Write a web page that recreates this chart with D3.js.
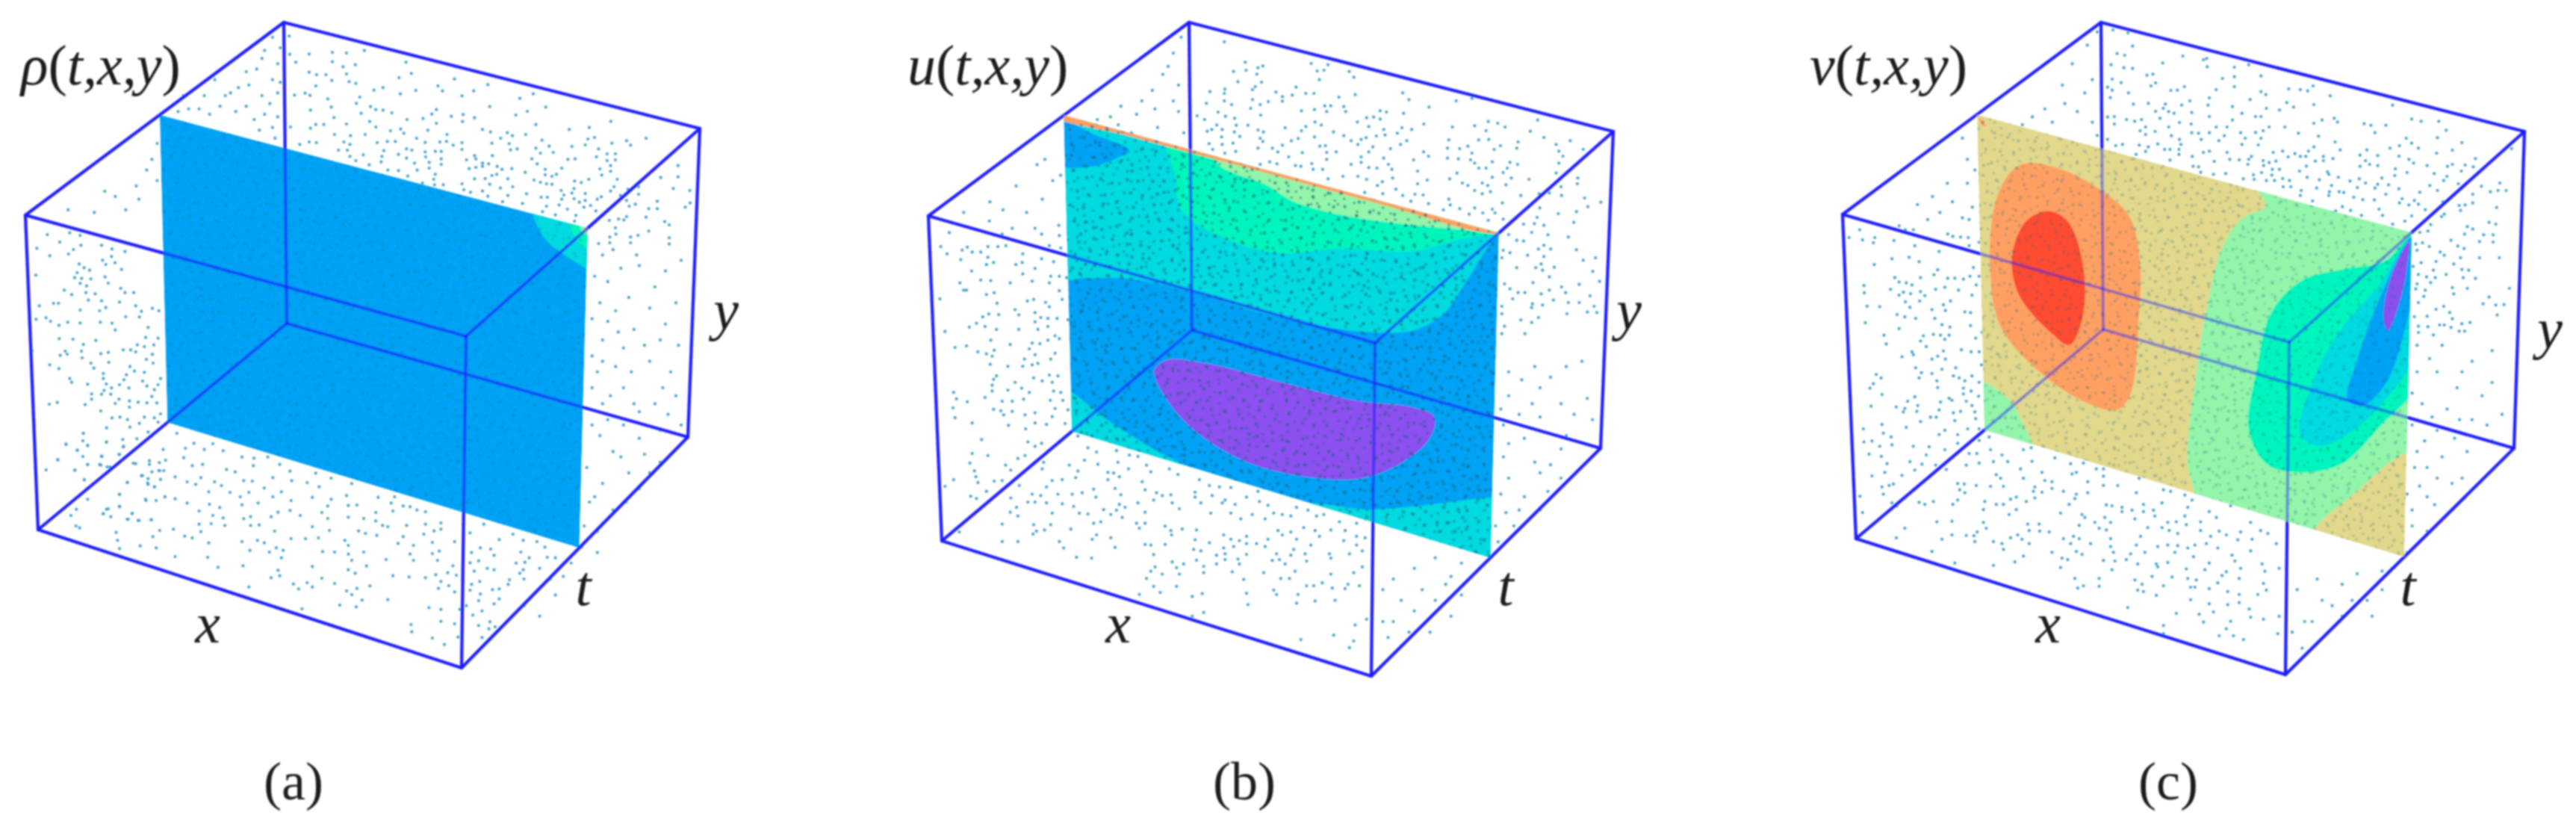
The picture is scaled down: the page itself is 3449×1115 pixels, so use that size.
<!DOCTYPE html>
<html>
<head>
<meta charset="utf-8">
<script src="https://cdn.jsdelivr.net/npm/d3@7"></script>
<style>
html,body{margin:0;padding:0;background:#fff;}
svg{display:block;}
text{font-family:"Liberation Serif",serif;fill:#1a1a1a;}
</style>
</head>
<body>
<div id="canvas"></div>
<script>
//contour levels, purple = lowest value, red = highest
var levels = [0,1,2,3,4,5,6,7];
var levelColors = ['#8c50f0','#00a2f5','#00dae0','#00f5bd','#92f5aa','#e1d88c','#ffa062','#ff4c30'];

//contours on the slice t = const, [x %, y % from top]
var contoursRho = [
  {level:2, pts:[[87,-4],[89.4,5.7],[94.4,10],[104,12.5],[105,-4]]},
  {level:3, pts:[[95.5,-3],[97,3.5],[99,6],[104,6.5],[104,-3]]},
  {level:4, pts:[[98.3,-2],[98.8,1.5],[104,2.5],[104,-2]]},
  {level:6, pts:[[99.3,-1],[99.5,0.6],[102,0.8],[102,-1]]}
];
var contoursU = [
  {level:2, pts:[[-4,-4],[104,-4],[104,1],[100,1],[93,17],[88,29],[81,37],[69,42],[49,45],[29,45],[15,46],[4,50],[-4,53]]},
  {level:1, pts:[[-2,2],[7,3.5],[15,5.5],[12,9],[6,14],[-2,16]]},
  {level:3, pts:[[24,-3],[25.5,10],[27,20],[37,25],[49,25],[64,18],[80,13],[92,4.6],[100,0],[104,-3]]},
  {level:4, pts:[[34,-2],[35.6,2.5],[46.6,4.7],[52.8,7.5],[65,7.5],[80,4.8],[98,0.5],[104,-1]]},
  {level:6, pts:[[-3,-3],[103,-3],[100,0.2],[70,1],[40,1],[15,1],[-3,0.8]]},
  {level:0, pts:[[20,73],[23,68.5],[32,66],[49,65],[67.5,64],[81,61],[86,62],[85,69],[78.5,79],[69,87.5],[56.4,92],[41.7,93],[29.4,88],[22.7,80.5]]},
  {level:2, pts:[[-4,86],[1,88],[8.6,93],[20,98],[28,101],[28,105],[-4,105]]},
  {level:2, pts:[[56,101],[71,96.5],[86,89],[100,81.5],[105,80],[105,105],[56,105]]}
];
var contoursV = [
  {level:6, pts:[[10.7,11.5],[18.9,10],[28,13],[35,19],[37.4,33],[37,50],[35,74.5],[31.8,81],[23.6,81.5],[11.8,75],[4.2,65],[2.2,48.5],[3.6,27.5],[7.2,16]]},
  {level:7, pts:[[16,24.5],[20.6,26],[24,38],[23.8,55],[20.6,65],[16.5,63],[9,54],[7.4,43],[10.7,30]]},
  {level:6, pts:[[0.6,1],[1.4,1.6],[2,3],[1.2,3],[0.6,2]]},
  {level:4, pts:[[63,-4],[105,-4],[105,68],[100,68],[88,85],[78,101],[78,105],[50,105],[50,100],[48.4,91],[50.5,62],[52.9,41],[56.4,21],[61,10],[66.4,4]]},
  {level:4, pts:[[-3,85],[6,88],[9.5,95],[11.6,101],[11,105],[-3,105]]},
  {level:3, pts:[[100,1],[94,11],[84.5,17],[75,24],[68,36.5],[64.6,56],[62.8,75],[67,84],[74,84],[84.5,77.5],[94,61.5],[102,46],[104,1]]},
  {level:2, pts:[[100,2],[92.7,19],[84.5,35],[78.7,51],[75,72],[79.8,73.5],[88,65],[96,51],[102,35],[103,2]]},
  {level:1, pts:[[100,1.5],[92.7,24],[88,44],[86,57],[89.8,57],[95,48],[99,30],[101,13.5]]},
  {level:0, pts:[[99.5,3],[95.6,15],[94,28.5],[95,32],[98,20],[99.3,8]]}
];

//scatter points, [column,row] in each reading window
var dotsRhoTop = [[20,55],[22,128],[95,127],[182,120],[235,123],[302,113],[45,160],[182,158],[222,178],[268,170],[458,160],[95,200],[123,210],[158,210],[235,207],[432,222],[478,205],[180,233],[245,238],[270,245],[120,255],[640,227],[578,255],[338,272],[372,262],[495,273],[595,275],[712,275],[765,250],[40,292],[80,284],[98,293],[165,307],[285,300],[437,287],[668,295],[885,305],[935,287],[272,325],[178,340],[325,338],[345,350],[372,352],[405,363],[572,350],[772,338],[982,340],[913,357],[870,372],[100,352],[188,382],[290,365],[555,368],[628,377],[672,370],[715,383],[120,410],[235,408],[322,398],[462,390],[522,386],[670,398],[1226,397],[25,420],[100,425],[150,410],[345,420],[400,435],[438,428],[572,405],[745,430],[775,440],[945,410],[1070,430],[1145,422],[1358,465],[1165,462],[838,443],[857,455],[907,450],[190,450],[250,455],[305,450],[450,445],[540,433],[612,450],[813,465],[498,465],[1285,475],[1140,468],[95,480],[122,483],[225,480],[350,483],[388,478],[418,478],[530,482],[585,480],[610,478],[668,483],[780,485],[845,487],[968,473],[1230,485],[1300,493],[1130,492],[60,490],[248,490],[995,497],[1080,498],[205,513],[238,513],[375,515],[460,508],[480,513],[530,520],[568,518],[590,518],[635,493],[668,510],[850,512],[875,508],[945,505],[962,525],[1010,522],[1180,508],[1212,528],[1243,528],[298,532],[430,530],[460,545],[532,540],[715,535],[782,535],[248,538],[1172,540],[1065,550],[1092,548],[930,548],[1243,552],[1212,555],[270,555],[368,538],[590,548],[685,552],[720,548],[365,560],[320,572],[490,565],[545,562],[590,570],[768,568],[745,565],[950,568],[1225,575],[1478,575],[695,587],[745,578],[720,582],[800,578],[855,587],[1042,585],[1185,588],[980,590],[818,590],[545,585],[390,593],[430,595],[500,593],[1225,598],[905,602],[1192,613],[798,610],[568,610],[465,617],[780,615],[980,612],[1005,618],[1022,610],[1413,623],[1478,620],[715,628],[840,628],[755,627],[562,630],[1250,630],[938,633],[962,642],[1090,637],[1143,630],[1115,643],[985,648],[1005,650],[520,645],[565,652],[598,652],[668,648],[772,650],[1330,660],[1238,660],[858,660],[812,665],[1290,670],[1040,675],[1460,667],[1088,667],[1522,675],[675,672],[700,682],[745,677],[910,688],[1130,687],[1225,677],[1080,685],[1050,693],[1330,690],[840,695],[765,698],[965,702],[988,702],[1262,695],[1190,700],[1088,708],[1042,710],[1175,710],[1285,715],[1130,715],[1108,722],[1400,718],[820,720],[895,727],[1318,730],[1523,725],[1150,735],[1295,738],[1505,742],[985,738],[1032,733],[1125,742],[1368,748],[1400,748],[1063,750],[1215,752],[1170,757],[1018,773],[970,760],[1095,775],[1358,782],[1285,780],[1255,790],[1275,793],[1220,795],[1090,798],[1428,800],[1445,813],[1243,825],[1368,838],[1245,850],[1445,865],[1222,862],[1300,862],[1328,855],[1222,885],[1300,885],[1180,888],[1445,890]];
var dotsRhoLeft = [[100,102],[190,95],[232,105],[150,132],[235,145],[58,157],[205,162],[185,180],[110,187],[318,145],[360,160],[412,170],[358,190],[322,205],[335,222],[372,215],[228,220],[248,235],[270,245],[398,242],[220,255],[54,265],[210,275],[238,278],[275,280],[332,272],[345,297],[232,298],[258,308],[168,325],[255,335],[198,343],[292,340],[395,318],[412,335],[447,335],[265,365],[318,368],[390,373],[68,388],[125,378],[145,378],[335,395],[232,405],[310,408],[455,388],[478,410],[522,398],[548,408],[415,432],[470,433],[95,436],[113,450],[55,442],[147,466],[182,454],[232,457],[313,454],[360,458],[373,485],[505,475],[148,520],[203,522],[295,527],[495,515],[545,518],[245,543],[237,570],[490,552],[528,545],[462,545],[405,565],[435,565],[455,573],[38,568],[345,575],[315,580],[172,570],[180,582],[152,587],[522,583],[240,597],[498,603],[110,625],[275,618],[347,615],[525,618],[147,640],[287,638],[432,632],[325,660],[450,650],[418,665],[490,655],[190,680],[325,680],[408,685],[555,680],[198,695],[262,703],[337,702],[390,705],[483,690],[500,710],[545,705],[358,718],[428,718],[530,725],[328,728],[278,742],[318,743],[355,743],[520,752],[278,763],[388,763],[430,770],[465,775],[500,778],[540,778],[108,783],[140,776],[252,785],[373,780],[430,795],[315,810],[360,838],[392,835],[422,845],[490,835],[530,838],[555,822],[338,878],[432,875],[470,860],[545,855],[505,895],[245,900],[243,930],[175,945],[262,950],[337,935],[403,925],[460,922],[405,955],[220,968],[142,1006],[243,993],[320,993],[388,985],[445,1020],[262,1026],[315,1028],[340,1035],[95,1047],[210,1048],[510,1025],[550,1018],[575,1008],[520,1055],[548,1050],[568,1050],[478,1070],[248,1086],[505,1082],[422,1097],[505,1105],[555,1085],[530,1115],[258,1122],[390,1145],[495,1165],[537,1170],[573,1155],[262,1165],[390,1193],[345,1203],[325,1223],[440,1222],[195,1230],[355,1235],[465,1250],[518,1247],[425,1245],[215,1272],[230,1280]];
var dotsRhoFloor = [[112,60],[62,103],[125,108],[180,95],[95,128],[230,112],[165,152],[218,145],[38,167],[265,182],[125,185],[160,185],[88,208],[190,195],[115,247],[240,258],[122,285],[385,60],[410,120],[435,100],[465,125],[490,102],[345,125],[305,170],[405,158],[520,130],[575,155],[610,160],[650,155],[685,185],[715,212],[608,190],[530,205],[555,215],[580,250],[605,252],[665,238],[720,250],[790,220],[835,240],[895,262],[765,258],[800,275],[460,185],[430,190],[335,210],[380,235],[455,238],[285,230],[300,260],[415,255],[440,265],[495,255],[515,270],[320,275],[218,305],[295,330],[350,315],[380,323],[415,340],[478,295],[540,297],[595,297],[640,280],[665,315],[690,295],[570,315],[718,330],[780,317],[835,325],[880,310],[972,317],[1020,315],[480,345],[510,358],[575,347],[622,340],[825,352],[885,350],[910,348],[1010,340],[1045,352],[218,355],[180,365],[92,365],[450,372],[680,377],[715,370],[745,390],[808,378],[965,378],[1015,372],[1065,355],[1085,368],[1110,375],[170,383],[255,382],[490,390],[600,395],[580,403],[660,395],[520,400],[240,405],[275,410],[310,407],[825,402],[930,402],[885,397],[965,412],[985,430],[1055,430],[1110,425],[1155,420],[450,425],[485,423],[525,430],[600,430],[625,428],[780,435],[1000,435],[375,445],[335,450],[208,458],[455,455],[670,453],[830,450],[915,452],[935,462],[968,470],[1045,475],[1105,465],[1135,452],[1155,445],[1220,425],[1240,460],[1280,425],[1365,465],[1395,490],[1435,495],[315,475],[408,473],[430,480],[212,490],[575,495],[620,490],[640,500],[718,483],[760,483],[798,480],[875,490],[1030,502],[1130,498],[1195,495],[1325,487],[478,500],[218,523],[278,512],[325,520],[598,530],[655,537],[675,520],[695,530],[810,535],[845,537],[885,510],[930,537],[1075,510],[1150,533],[1130,543],[1270,520],[1300,525],[1388,537],[380,555],[475,558],[690,560],[885,545],[1065,545],[1310,550],[1465,558],[505,598],[578,592],[895,570],[938,593],[995,567],[1075,570],[1145,570],[1240,580],[1265,572],[1400,578],[780,595],[680,610],[885,608],[1190,592],[1310,608],[660,640],[685,632],[808,642],[905,622],[1015,632],[1062,637],[1110,640],[1140,628],[1175,620],[1200,630],[1385,622],[1395,608],[725,665],[765,660],[845,663],[1155,655],[1220,655],[1268,655],[1355,648],[1465,652],[595,677],[740,685],[780,677],[948,673],[1148,683],[1178,672],[1240,690],[1325,685],[880,693],[910,683],[1195,697],[895,708],[1270,705],[925,730],[1000,728],[1265,732],[1325,725],[1310,745],[750,765],[860,750],[908,757],[1120,760],[1155,767],[1210,767],[1248,790],[1155,815],[1195,825],[1298,817],[1068,828],[1265,832],[1070,857],[1295,845],[1130,882],[1205,878],[1165,908]];
var dotsRhoRest = [[520,70],[530,120],[490,130],[520,150],[455,165],[420,200],[470,200],[500,180],[530,175],[380,205],[430,180],[495,245],[530,220],[470,135],[505,215],[525,260],[350,180],[410,150],[280,320],[220,370],[260,350],[300,270],[180,400],[240,395],[505,95],[535,90],[440,175],[390,180],[450,210],[485,225],[515,195],[475,160],[400,215],[360,205],[340,210],[520,240],[535,155],[500,110],[290,300],[265,375],[130,395],[200,360],[300,340],[1150,480],[1170,470],[1215,480],[1135,520],[1160,530],[1220,500],[1270,510],[1300,490],[1145,570],[1175,585],[1240,580],[1290,570],[1130,600],[1160,605],[1210,620],[1260,640],[1150,640],[1130,670],[1190,655],[1295,650],[1140,700],[1175,690],[1240,680],[1280,700],[1130,730],[1190,730],[1150,760],[1220,775],[1250,760],[1190,800],[1130,800],[1290,745],[1260,810],[1300,800],[1145,820],[1170,850],[1230,855],[1200,890],[1120,880],[1260,870],[1150,910],[1220,920],[1125,945],[1170,960],[1115,990],[1140,1000],[1060,1050],[1090,1060],[1030,1070],[930,1070],[970,1100],[1000,1090],[900,1100],[920,1150],[940,1110],[1040,1030],[900,1040],[1000,1140],[1110,1030],[1060,1120],[1030,1160],[920,1200],[1185,505],[1250,540],[1200,560],[1270,610],[1180,625],[1230,650],[1150,680],[1205,700],[1265,730],[1165,745],[1210,760],[1275,780],[1160,790],[1220,825],[1185,860],[1240,890],[1135,935],[1195,945],[1150,985],[1080,1020],[1140,1040],[1050,1090],[985,1060],[905,1075],[945,1180],[890,1140],[1075,1085],[1010,1050]];

var dotsUTop = [[108,78],[185,160],[232,182],[250,175],[428,165],[490,170],[475,192],[450,195],[568,197],[585,220],[142,197],[188,192],[228,208],[458,230],[158,238],[245,240],[222,258],[372,260],[110,268],[55,278],[212,270],[298,280],[358,292],[322,298],[408,285],[438,285],[590,290],[765,283],[108,285],[530,300],[788,310],[962,315],[1020,305],[42,325],[108,315],[135,330],[322,316],[212,310],[270,318],[240,330],[205,345],[500,335],[478,335],[548,338],[862,340],[440,350],[392,355],[485,358],[555,358],[682,355],[705,360],[768,365],[85,360],[112,377],[242,372],[146,385],[632,383],[658,380],[682,388],[8,375],[35,390],[598,400],[442,400],[465,412],[1080,398],[1115,405],[1262,392],[843,408],[1030,415],[948,420],[1142,420],[195,413],[152,413],[640,418],[408,418],[332,423],[80,412],[100,430],[62,430],[45,437],[232,432],[252,440],[510,440],[392,435],[695,430],[762,423],[798,430],[745,445],[1072,435],[1235,437],[700,452],[668,456],[548,455],[440,460],[98,460],[145,440],[165,458],[240,465],[380,466],[355,475],[575,475],[630,463],[612,470],[1285,462],[935,472],[1045,472],[1082,470],[780,475],[1382,475],[250,478],[140,485],[52,487],[100,490],[600,490],[322,493],[1190,480],[1330,490],[460,497],[232,505],[285,505],[480,495],[655,500],[720,507],[757,490],[930,505],[975,507],[1005,497],[1102,510],[1125,495],[1185,505],[1430,510],[395,523],[65,510],[150,518],[520,520],[640,520],[485,522],[1340,517],[842,520],[860,537],[305,520],[110,525],[695,545],[930,545],[1020,525],[970,548],[345,540],[1355,537],[612,540],[485,550],[1015,552],[805,552],[1095,560],[1340,565],[275,560],[302,568],[430,567],[612,562],[370,575],[575,570],[712,570],[1030,565],[1160,562],[1188,570],[240,570],[390,578],[640,583],[670,585],[1045,585],[1072,585],[725,590],[820,597],[1150,585],[435,590],[470,590],[1135,603],[965,605],[1330,605],[545,618],[490,628],[600,618],[632,630],[728,625],[855,633],[938,628],[1095,622],[1165,625],[1230,630],[1410,625],[690,640],[820,648],[985,645],[1005,655],[1058,645],[1078,655],[1145,652],[1408,648],[672,655],[1348,660],[740,670],[1030,675],[1058,688],[1088,680],[1268,688],[625,683],[692,688],[810,690],[840,693],[765,695],[1200,695],[1305,685],[1350,695],[935,710],[795,718],[860,728],[1435,705],[1495,722],[1132,725],[940,733],[1270,745],[1447,740],[975,748],[1030,745],[915,753],[1060,765],[1095,750],[1338,768],[1405,760],[1010,770],[1105,765],[1260,783],[1080,795],[1135,790],[1395,803],[1210,810],[1250,808],[1285,815],[1240,843],[1300,853],[1155,852],[1375,862],[1185,875],[1210,878],[1285,895],[1310,910],[1135,915],[1160,925],[1265,910],[1405,913],[1225,935],[1285,940],[1475,945],[1430,955],[1275,970],[1130,945],[1323,983],[1255,985],[1280,995],[1185,985],[1465,1000],[1305,1022],[1245,1045],[1490,1040],[1415,1052],[1140,1050],[1160,1070],[1350,1062],[1305,1075],[1190,1085],[1215,1085],[1275,1090],[1365,1085],[1455,1098],[1170,1110],[1320,1115],[1415,1125],[1243,1130],[1280,1135],[1375,1125],[1130,1140],[1470,1140],[1445,1163],[1240,1145],[1130,1170],[1370,1170],[1480,1165],[1265,1185],[1200,1195],[1240,1205],[1140,1220],[1215,1250],[1130,1250]];
var dotsULow = [[55,55],[195,15],[240,60],[275,40],[355,40],[378,60],[438,30],[440,65],[25,103],[118,105],[47,128],[100,115],[135,122],[165,122],[190,103],[225,103],[253,100],[405,100],[445,108],[312,128],[378,145],[420,155],[95,148],[190,140],[210,158],[288,165],[185,165],[133,187],[355,178],[310,158],[410,205],[312,197],[440,205],[465,210],[165,218],[200,220],[268,228],[345,222],[92,228],[405,228],[105,253],[115,253],[185,268],[212,262],[440,255],[22,283],[328,290],[350,285],[392,295],[222,298],[405,310],[450,285],[285,320],[355,330],[193,335],[172,345],[228,337],[298,338],[375,347],[400,350],[432,350],[470,355],[355,362],[150,367],[180,378],[125,380],[400,378],[220,388],[298,388],[365,388],[40,395],[425,410],[200,425],[268,440],[345,435],[372,437],[400,425],[440,420],[75,450],[115,445],[155,465],[212,460],[335,455],[355,475],[425,470],[185,472],[205,480],[318,490],[410,490],[198,508],[260,515],[312,515],[345,510],[365,505],[220,548],[210,560],[350,555],[405,545],[435,548],[380,565],[285,570],[415,570],[205,580],[260,597],[308,590],[335,605],[205,600],[420,600],[445,605],[70,605],[80,627],[118,637],[180,622],[240,635],[275,635],[315,628],[408,632],[452,632],[68,658],[210,663],[235,668],[275,670],[425,660],[470,665],[75,692],[245,682],[320,682],[355,675],[415,688],[135,710],[355,710],[395,715],[262,718],[460,712],[322,730],[168,767],[330,775],[378,780],[355,790],[135,815],[190,822],[320,822],[295,832],[127,848],[252,855],[270,872],[143,875],[148,895],[70,905],[155,915],[212,910],[240,908],[40,928],[185,945],[130,962],[150,970],[90,1085],[505,755],[540,795],[640,805],[570,810],[685,820],[715,825],[475,855],[528,838],[575,852],[645,845],[745,855],[505,875],[385,845],[380,868],[610,880],[630,882],[682,868],[760,878],[825,868],[855,887],[450,905],[415,908],[497,898],[610,905],[650,895],[730,912],[930,905],[395,930],[435,955],[300,925],[560,938],[635,935],[740,940],[780,950],[830,957],[915,948],[965,925],[1000,930],[1040,932],[1135,945],[270,968],[345,955],[375,960],[485,955],[520,950],[568,965],[655,957],[715,985],[770,975],[800,960],[915,965],[975,960],[1020,975],[1095,965],[290,1000],[330,982],[355,982],[395,985],[450,988],[490,997],[650,990],[835,985],[935,985],[1010,985],[1055,990],[1140,980],[1170,993],[1270,1000],[268,1017],[415,1020],[510,1020],[540,1023],[595,1008],[640,1010],[670,1000],[740,1017],[860,1005],[970,1020],[1115,1025],[1190,1020],[1220,1025],[1310,1010],[295,1030],[620,1025],[660,1035],[740,1055],[1040,1020],[1075,1040],[1160,1040],[1340,1030],[1365,1025],[350,1060],[240,1058],[410,1060],[585,1050],[560,1055],[710,1055],[1250,1030],[1420,1050],[1480,1055],[1510,1040],[480,1075],[360,1082],[388,1078],[348,1092],[720,1072],[810,1065],[830,1080],[870,1075],[920,1078],[1205,1080],[1295,1070],[1335,1080],[1390,1078],[1440,1080],[833,1095],[1015,1095],[1040,1110],[1095,1100],[1220,1095],[1250,1085],[1350,1100],[1480,1100],[570,1095],[555,1110],[620,1105],[915,1112],[1070,1115],[1170,1110],[1270,1110],[1435,1115],[1510,1105],[240,1118],[295,1118],[440,1118],[740,1128],[810,1128],[965,1122],[1015,1140],[1050,1135],[1095,1125],[1130,1125],[1160,1135],[1320,1130],[1480,1130],[635,1138],[455,1140],[760,1130],[910,1145],[935,1150],[1260,1145],[1200,1160],[1300,1160],[1385,1160],[1455,1160],[500,1172],[553,1175],[770,1163],[990,1165],[1020,1160],[1095,1162],[1250,1165],[1500,1150],[920,1182],[1020,1180],[1065,1178],[1185,1183],[1230,1195],[1390,1175],[835,1188],[875,1195],[990,1195],[1210,1180],[1305,1185],[775,1205],[850,1208],[945,1203],[1070,1195],[1500,1205],[760,1220],[860,1230],[945,1225],[1045,1222],[1155,1225],[1265,1220],[1390,1230],[1470,1225],[745,1245],[1215,1245],[1085,1248],[1245,1245],[800,1230],[1305,1270],[1360,1260],[1450,1265],[770,1272],[850,1272],[1395,1278],[1490,1270],[1190,1285],[1330,1270],[1440,1280],[793,1293],[940,1297],[1095,1296],[1200,1300],[1275,1300],[1405,1320],[720,1300],[905,1307],[1335,1322],[1270,1330],[1100,1335],[945,1362],[905,1375],[1515,1385],[1475,1405],[1400,1440],[1285,1455],[1470,1460],[1455,1483]];
var dotsURest = [[600,100],[580,140],[560,170],[600,190],[540,190],[500,200],[480,220],[570,240],[610,210],[520,250],[600,280],[570,290],[300,350],[250,380],[320,400],[370,340],[340,310],[200,400],[615,70],[590,125],[530,215],[455,225],[430,230],[620,250],[545,270],[495,235],[610,160],[565,205],[350,375],[275,395],[355,300],[385,330],[1240,700],[1290,690],[1350,690],[1380,680],[1240,745],[1300,730],[1340,760],[1390,750],[1260,780],[1300,785],[1230,800],[1270,825],[1350,820],[1400,790],[1230,860],[1290,870],[1340,845],[1240,900],[1300,890],[1225,930],[1270,935],[1215,990],[1250,990],[1300,960],[1340,900],[1220,1020],[1150,1060],[1180,1075],[1100,1050],[1060,1070],[1020,1090],[1120,1100],[1000,1110],[1060,1150],[1100,1130],[1020,1170],[1050,1190],[1000,1170],[1150,1120],[1090,1190],[1130,1160],[1265,715],[1320,710],[1225,770],[1365,780],[1285,760],[1240,835],[1320,875],[1260,960],[1315,925],[1235,965],[1195,1030],[1130,1085],[1075,1110],[1035,1130],[1010,1200]];

var dotsVTop = [[25,30],[80,42],[97,95],[40,125],[68,132],[282,135],[370,145],[208,163],[358,150],[18,170],[65,182],[97,185],[372,178],[472,180],[525,170],[150,212],[172,208],[472,218],[428,225],[570,215],[22,228],[55,242],[182,243],[165,255],[472,258],[762,255],[5,260],[238,273],[262,272],[288,258],[405,270],[672,267],[715,270],[742,275],[22,272],[82,283],[570,278],[588,290],[825,295],[15,302],[380,303],[530,310],[308,315],[100,328],[155,325],[218,328],[278,332],[375,332],[665,322],[765,330],[1055,332],[465,338],[690,340],[590,345],[210,345],[182,357],[230,358],[315,362],[250,365],[500,365],[638,352],[380,378],[5,380],[30,378],[75,390],[198,385],[550,378],[570,378],[130,390],[105,397],[465,392],[795,392],[840,385],[852,400],[1125,388],[1160,397],[1225,397],[30,408],[270,402],[313,408],[765,405],[950,407],[975,413],[1030,413],[405,420],[445,420],[600,420],[658,420],[230,420],[145,420],[125,435],[180,438],[315,443],[380,443],[340,445],[550,442],[578,435],[495,443],[708,445],[990,443],[1252,433],[145,450],[240,455],[435,455],[782,457],[5,470],[350,470],[512,465],[570,465],[415,475],[270,470],[1105,465],[1220,463],[843,480],[1310,483],[1125,485],[35,495],[60,490],[122,493],[190,488],[275,490],[500,490],[560,492],[1080,495],[1045,505],[765,500],[1150,505],[155,500],[235,510],[215,510],[268,510],[862,512],[1493,507],[960,512],[1275,513],[650,517],[615,522],[745,517],[145,518],[380,517],[358,522],[445,522],[1217,525],[268,530],[110,530],[317,538],[695,527],[535,538],[670,540],[715,538],[735,538],[800,538],[835,547],[935,533],[1000,535],[1078,537],[1360,547],[235,553],[398,558],[455,550],[490,552],[525,550],[578,555],[600,563],[625,557],[770,557],[800,555],[955,555],[1115,550],[1132,565],[522,570],[970,570],[1000,575],[935,578],[737,577],[1182,575],[1257,578],[1275,570],[1322,573],[1352,580],[1065,588],[320,578],[340,580],[580,575],[638,590],[612,590],[1308,597],[712,597],[815,600],[348,602],[395,610],[440,607],[542,612],[572,603],[1108,603],[1208,607],[1063,615],[820,610],[610,613],[505,628],[740,622],[855,622],[1255,618],[1370,605],[545,630],[590,635],[650,627],[675,635],[785,632],[932,628],[898,637],[1015,625],[620,635],[1243,635],[955,645],[1040,652],[1000,650],[1297,648],[1450,645],[652,660],[680,660],[775,665],[925,663],[990,665],[1192,655],[1382,658],[830,655],[1078,668],[822,680],[858,680],[875,683],[1220,675],[718,675],[1443,675],[1473,675],[1415,680],[1155,682],[1030,690],[1350,690],[715,695],[820,695],[912,702],[1090,708],[945,712],[988,713],[760,717],[1135,715],[1080,725],[1115,733],[1240,720],[1350,725],[1300,735],[1150,730],[1322,733],[1438,743],[870,740],[900,755],[845,757],[1005,750],[1175,752],[1305,755],[1245,770],[1018,775],[940,775],[1125,777],[1235,780],[1410,803],[1435,810],[1100,798],[1055,810],[1195,812],[1330,820],[1350,830],[1155,843],[1185,838],[1390,853],[1425,853],[1320,850],[1270,875],[1375,880],[1425,882],[1140,890],[1190,900],[1165,885],[1295,898],[1318,908],[1145,915],[1230,922],[1245,935],[1375,945],[1305,945],[1448,945],[1130,980],[1160,965],[1215,960],[1280,970],[1310,992],[1335,995],[1205,995],[1252,1012],[1150,1012],[1180,1022],[1212,1025],[1315,1025],[1360,1028],[1195,1045],[1145,1050],[1275,1065],[1330,1068],[1140,1070],[1175,1075],[1280,1090],[1485,1068],[1170,1100],[1410,1103],[1150,1125],[1435,1135],[1465,1133],[1243,1140],[1388,1130],[1215,1152],[1265,1165],[1135,1182],[1182,1180],[1275,1190],[1440,1175],[1228,1215],[1245,1215],[1340,1205],[1310,1210],[1150,1220],[1185,1222],[1270,1225],[1150,1245],[1300,1240],[1320,1240],[1205,1255]];
var dotsVLow = [[15,72],[52,45],[62,80],[105,72],[100,90],[172,82],[190,32],[212,45],[240,45],[290,10],[435,10],[360,60],[378,68],[405,70],[432,72],[245,100],[330,120],[435,100],[470,88],[225,140],[165,145],[260,155],[103,165],[325,183],[450,175],[312,200],[175,210],[190,225],[215,228],[265,210],[360,212],[385,212],[415,215],[438,205],[470,205],[67,237],[235,235],[350,243],[160,250],[318,250],[460,235],[68,262],[205,260],[230,265],[265,258],[398,253],[190,270],[280,272],[445,270],[262,290],[370,290],[212,293],[345,303],[78,308],[122,310],[228,312],[305,320],[352,323],[420,328],[183,337],[440,330],[210,345],[248,350],[315,350],[72,365],[340,372],[368,380],[440,375],[190,385],[480,398],[137,408],[275,410],[310,405],[335,408],[365,408],[458,418],[265,428],[350,422],[145,438],[285,447],[235,465],[240,475],[345,462],[408,458],[442,465],[470,465],[200,482],[325,480],[305,490],[352,490],[248,520],[340,525],[388,520],[478,510],[268,537],[305,540],[110,543],[127,555],[100,575],[260,555],[380,548],[400,555],[445,548],[322,565],[420,565],[470,570],[88,590],[325,588],[415,590],[130,612],[415,610],[442,600],[245,620],[365,625],[220,635],[425,635],[468,618],[92,652],[180,655],[255,650],[375,632],[210,660],[335,638],[445,650],[205,672],[252,670],[330,665],[380,675],[405,670],[455,672],[300,690],[320,690],[385,702],[265,705],[458,695],[130,715],[215,725],[65,730],[350,735],[430,730],[135,745],[162,758],[330,750],[395,750],[470,730],[67,775],[95,772],[165,785],[122,790],[240,790],[295,792],[395,780],[350,802],[470,770],[85,817],[128,825],[285,820],[385,820],[435,815],[462,815],[228,843],[148,850],[270,852],[318,855],[425,855],[470,848],[355,870],[140,880],[95,892],[200,890],[245,872],[170,920],[130,930],[155,925],[135,955],[53,962],[165,985],[182,995],[62,1018],[505,758],[625,802],[652,795],[510,802],[550,820],[570,843],[655,842],[735,830],[520,843],[615,868],[690,880],[790,850],[835,848],[880,868],[905,868],[795,885],[810,880],[905,893],[625,900],[700,908],[545,900],[530,888],[395,918],[418,920],[460,925],[510,928],[555,928],[725,912],[850,912],[905,925],[955,925],[1030,900],[665,930],[402,940],[725,935],[765,945],[810,955],[850,950],[420,950],[660,945],[690,948],[1020,950],[1115,940],[1140,945],[1190,958],[310,980],[260,983],[280,990],[395,975],[378,990],[490,980],[580,972],[600,965],[635,980],[665,968],[805,970],[970,1000],[1045,990],[1110,985],[1215,975],[530,990],[555,990],[785,990],[755,1020],[915,992],[935,995],[1005,1010],[1080,1010],[1200,1000],[1275,1015],[1350,995],[485,1008],[600,1008],[575,1025],[830,1025],[840,1035],[970,1015],[1045,1015],[1085,1030],[1190,1030],[1300,1035],[910,1035],[1015,1040],[322,1050],[375,1048],[485,1052],[640,1058],[680,1058],[875,1052],[930,1052],[1130,1052],[1160,1050],[1245,1050],[1420,1052],[820,1062],[1110,1070],[1060,1070],[1195,1060],[210,1072],[495,1072],[645,1080],[682,1082],[890,1072],[1135,1080],[1245,1080],[1310,1082],[1385,1085],[1455,1080],[915,1078],[463,1085],[715,1085],[1165,1090],[1335,1095],[1480,1090],[180,1105],[375,1095],[425,1097],[452,1098],[605,1095],[620,1110],[340,1110],[455,1118],[520,1118],[580,1105],[765,1108],[800,1100],[820,1108],[930,1108],[1035,1100],[1280,1100],[1375,1112],[1425,1110],[550,1125],[645,1125],[790,1125],[860,1125],[1020,1130],[1095,1135],[1130,1130],[1165,1132],[1225,1130],[1305,1140],[1510,1125],[555,1145],[930,1135],[1420,1150],[305,1152],[725,1155],[810,1152],[940,1155],[1050,1155],[1155,1155],[1265,1125],[625,1168],[760,1175],[830,1162],[1000,1160],[1355,1165],[1220,1170],[1200,1140],[595,1188],[385,1192],[520,1200],[755,1207],[780,1180],[905,1183],[945,1185],[985,1180],[1090,1195],[1130,1190],[1275,1192],[1365,1185],[1460,1195],[1025,1195],[935,1215],[1095,1205],[1195,1212],[1260,1215],[1335,1222],[1385,1210],[1470,1220],[1520,1210],[1075,1238],[1145,1240],[1320,1235],[1380,1245],[805,1245],[890,1245],[835,1270],[1015,1250],[1230,1250],[1225,1275],[1305,1260],[1465,1262],[815,1278],[890,1272],[1040,1265],[1115,1270],[1200,1245],[1025,1285],[1045,1290],[1210,1275],[1275,1280],[1340,1290],[1380,1300],[1445,1300],[1475,1285],[1090,1303],[1210,1318],[1275,1332],[1340,1335],[1380,1328],[1415,1350],[990,1345],[1160,1365],[1240,1368],[1290,1360],[1420,1378],[1465,1385],[1520,1375],[1255,1395],[1350,1392],[1115,1407],[1335,1418],[1115,1435],[1310,1442],[1360,1442],[1395,1455],[1515,1435]];
var dotsVRest = [[590,85],[560,120],[600,150],[540,160],[480,220],[520,230],[570,210],[445,250],[600,230],[400,270],[350,300],[310,345],[350,345],[280,370],[250,385],[340,410],[360,390],[340,260],[610,60],[585,175],[505,205],[460,235],[545,195],[425,260],[610,255],[320,380],[365,320],[295,400],[1250,650],[1300,650],[1360,680],[1400,660],[1250,700],[1290,700],[1330,730],[1400,720],[1260,760],[1310,770],[1360,790],[1240,800],[1290,810],[1420,780],[1250,850],[1300,860],[1350,850],[1400,830],[1245,880],[1290,900],[1230,930],[1270,935],[1240,990],[1285,950],[1340,900],[1100,1100],[1130,1080],[1200,1070],[1180,1110],[1050,1090],[1010,1110],[1000,1190],[1040,1170],[1080,1140],[1150,1130],[1020,1220],[1160,1160],[1275,675],[1340,700],[1240,740],[1380,745],[1280,785],[1335,790],[1265,830],[1325,825],[1390,800],[1270,880],[1320,910],[1255,915],[1240,960],[1270,1000],[1230,1040],[1120,1130],[1060,1130],[1180,1075],[1025,1170],[1100,1160]];

//points that fall on the slice, one repeating tile [col,row] of 100
var sliceDots = [[3,7],[12,2],[21,9],[33,4],[41,12],[52,6],[63,1],[71,11],[84,5],[94,9],[7,18],[17,22],[26,16],[37,24],[47,19],[58,17],[66,25],[77,20],[89,16],[97,23],[2,31],[13,36],[23,29],[31,38],[44,32],[55,28],[61,37],[73,33],[82,27],[92,35],[9,46],[19,42],[28,49],[39,44],[50,41],[59,48],[68,43],[79,47],[87,40],[96,45],[4,56],[15,53],[25,59],[35,54],[46,58],[54,52],[65,57],[74,55],[85,60],[93,53],[8,68],[18,64],[29,70],[38,65],[48,69],[57,63],[67,71],[76,66],[88,69],[98,62],[1,78],[14,75],[22,81],[34,76],[43,80],[53,74],[62,82],[72,78],[83,76],[91,83],[6,90],[16,87],[27,93],[36,88],[45,92],[56,86],[64,94],[75,89],[86,92],[95,88],[11,98],[24,96],[42,99],[51,97],[69,99],[81,97],[90,95],[10,12],[49,26],[70,50],[30,61],[80,86],[60,10],[20,33],[40,72],[90,72]];

var panelNames = ['\u03C1','u','v'];
var argLabels = ['t','x','y'];
var panelTags = ['(a)','(b)','(c)'];

var sliceT = 0.52; //position of the slice along t

//layout: box corners in page px, keyed t/x/y (0 or 1)
var panels = [
  {name:panelNames[0], tag:panelTags[0], base:1, contours:contoursRho,
   corners:{t0x0y0:[51,709],t0x1y0:[618,894],t0x0y1:[34,288],t0x1y1:[624,450],t1x0y0:[384,433],t1x1y0:[921,585],t1x0y1:[380,30],t1x1y1:[937,172]},
   titleX:28, xLab:[278,860], tLab:[781,810], yLab:[972,441], tagX:393, speck:0.2, fade:0.62,
   groups:[
     {dots:dotsRhoTop, win:[380,30,560,300,1568,900]},
     {dots:dotsRhoLeft, win:[30,280,200,430,600,1290]},
     {dots:dotsRhoFloor, win:[60,560,720,320,1568,960]},
     {dots:dotsRhoRest, win:[0,0,1100,1115,1568,1568]}
   ]},
  {name:panelNames[1], tag:panelTags[1], base:1, contours:contoursU,
   corners:{t0x0y0:[1261,724],t0x1y0:[1836,905],t0x0y1:[1243,289],t0x1y1:[1841,459],t1x0y0:[1596,442],t1x1y0:[2143,600],t1x0y1:[1592,30],t1x1y1:[2160,176]},
   titleX:1215, xLab:[1497,860], tLab:[2016,810], yLab:[2181,441], tagX:1666, speck:0.6, fade:0.55,
   groups:[
     {dots:dotsUTop, win:[1600,30,570,420,1568,1260]},
     {dots:dotsULow, win:[1250,290,600,610,1568,1568]},
     {dots:dotsURest, win:[1150,0,1100,1115,1568,1568]}
   ]},
  {name:panelNames[2], tag:panelTags[2], base:5, contours:contoursV,
   corners:{t0x0y0:[2485,721],t0x1y0:[3060,903],t0x0y1:[2467,287],t0x1y1:[3065,458],t1x0y0:[2816,441],t1x1y0:[3366,600],t1x0y1:[2813,30],t1x1y1:[3380,176]},
   titleX:2423, xLab:[2742,860], tLab:[3224,810], yLab:[3414,466], tagX:2903, speck:0.25, fade:0.42,
   groups:[
     {dots:dotsVTop, win:[2820,30,570,420,1568,1260]},
     {dots:dotsVLow, win:[2470,290,600,610,1568,1568]},
     {dots:dotsVRest, win:[2400,0,1049,1115,1568,1568]}
   ]}
];

var edges = [
  [[0,0,0],[0,1,0]],[[0,1,0],[0,1,1]],[[0,1,1],[0,0,1]],[[0,0,1],[0,0,0]],
  [[1,0,0],[1,1,0]],[[1,1,0],[1,1,1]],[[1,1,1],[1,0,1]],[[1,0,1],[1,0,0]],
  [[0,0,0],[1,0,0]],[[0,1,0],[1,1,0]],[[0,1,1],[1,1,1]],[[0,0,1],[1,0,1]]
];

var color = d3.scaleOrdinal(levels, levelColors);
var W = 3449, H = 1115;

var svg = d3.select('#canvas').append('svg')
    .attr('width',W)
    .attr('height',H);

var defs = svg.append('defs');
defs.append('filter').attr('id','soft')
    .attr('filterUnits','userSpaceOnUse')
    .attr('x',0).attr('y',0).attr('width',W).attr('height',H)
    .append('feGaussianBlur').attr('stdDeviation',0.8);

//same tile laid twice at different turns and sizes, keeps the repeat from showing
var tile = d3.scaleLinear().domain([0,100]).range([0,100]);
[['speck1','rotate(13) scale(1.3)'],['speck2','rotate(-37) scale(1.73)']].forEach(function(s){
  var pat = defs.append('pattern').attr('id',s[0])
      .attr('patternUnits','userSpaceOnUse')
      .attr('width',100).attr('height',100)
      .attr('patternTransform',s[1]);
  pat.selectAll('circle').data(sliceDots).join('circle')
      .attr('cx',function(d){return tile(d[0]);})
      .attr('cy',function(d){return tile(d[1]);})
      .attr('r',1.3)
      .attr('fill','#15607f');
});

var root = svg.append('g').attr('filter','url(#soft)');

panels.forEach(function(p,i){
  var c = p.corners;
  //trilinear map from the unit box to the page, built from linear scales
  function project(t,x,y){
    function mix(a,b,f){ return d3.scaleLinear().domain([0,1]).range([a,b])(f); }
    var out = [];
    for(var n=0;n<2;n++){
      var y0 = mix(c.t0x0y0[n],c.t0x1y0[n],x), y1 = mix(c.t0x0y1[n],c.t0x1y1[n],x);
      var y2 = mix(c.t1x0y0[n],c.t1x1y0[n],x), y3 = mix(c.t1x0y1[n],c.t1x1y1[n],x);
      out.push(mix(mix(y0,y1,y),mix(y2,y3,y),t));
    }
    return out;
  }
  var sX = d3.scaleLinear().domain([0,100]).range([0,1]);
  var sY = d3.scaleLinear().domain([0,100]).range([1,0]);
  function onSlice(d){ return project(sliceT,sX(d[0]),sY(d[1])); }

  var g = root.append('g').attr('class','panel');
  var slice = [[0,0],[100,0],[100,100],[0,100]].map(onSlice);
  var clipId = 'slice'+i;
  defs.append('clipPath').attr('id',clipId)
      .append('path').attr('d','M'+slice.join('L')+'Z');

  //scatter points
  p.groups.forEach(function(gr){
    var w = gr.win;
    var dx = d3.scaleLinear().domain([0,w[4]]).range([w[0],w[0]+w[2]]);
    var dy = d3.scaleLinear().domain([0,w[5]]).range([w[1],w[1]+w[3]]);
    g.append('g').selectAll('circle').data(gr.dots).join('circle')
        .attr('cx',function(d){return dx(d[0]);})
        .attr('cy',function(d){return dy(d[1]);})
        .attr('r',2.1)
        .attr('fill','#459fc8');
  });

  //box edges
  function drawEdges(sel,opacity){
    sel.selectAll('line').data(edges).join('line')
      .attr('x1',function(d){return project.apply(null,d[0])[0];})
      .attr('y1',function(d){return project.apply(null,d[0])[1];})
      .attr('x2',function(d){return project.apply(null,d[1])[0];})
      .attr('y2',function(d){return project.apply(null,d[1])[1];})
      .attr('stroke','#1c1cff')
      .attr('stroke-width',4.2)
      .attr('stroke-linecap','round')
      .attr('stroke-opacity',opacity);
  }
  drawEdges(g.append('g'),1);

  //the slice and its contours
  var sliceG = g.append('g').attr('clip-path','url(#'+clipId+')');
  var outline = 'M'+slice.join('L')+'Z';
  sliceG.append('path')
      .attr('d',outline)
      .attr('fill',color(p.base));
  var line = d3.line()
      .x(function(d){return onSlice(d)[0];})
      .y(function(d){return onSlice(d)[1];})
      .curve(d3.curveCatmullRomClosed.alpha(0.5));
  sliceG.selectAll('path.contour').data(p.contours).join('path')
      .attr('class','contour')
      .attr('d',function(d){return line(d.pts);})
      .attr('fill',function(d){return color(d.level);});
  ['speck1','speck2'].forEach(function(id){
    sliceG.append('path')
        .attr('d',outline)
        .attr('fill','url(#'+id+')')
        .attr('opacity',p.speck);
  });
  drawEdges(sliceG.append('g'),p.fade);

  //texts
  function mathText(xPos,yPos,size,parts){
    var t = g.append('text').attr('x',xPos).attr('y',yPos).attr('font-size',size);
    parts.forEach(function(s){
      t.append('tspan').attr('font-style',s.it?'italic':'normal').text(s.t);
    });
    return t;
  }
  var title = [{t:p.name,it:true},{t:'(',it:false}];
  argLabels.forEach(function(a,k){
    title.push({t:a,it:true});
    if(k<2) title.push({t:',',it:true});
  });
  title.push({t:')',it:false});
  mathText(p.titleX,113,76,title);
  mathText(p.xLab[0],p.xLab[1],76,[{t:'x',it:true}]).attr('text-anchor','middle');
  mathText(p.tLab[0],p.tLab[1],76,[{t:'t',it:true}]).attr('text-anchor','middle');
  mathText(p.yLab[0],p.yLab[1],76,[{t:'y',it:true}]).attr('text-anchor','middle');
  mathText(p.tagX,1070,72,[{t:p.tag,it:false}]).attr('text-anchor','middle');
});
</script>
</body>
</html>
